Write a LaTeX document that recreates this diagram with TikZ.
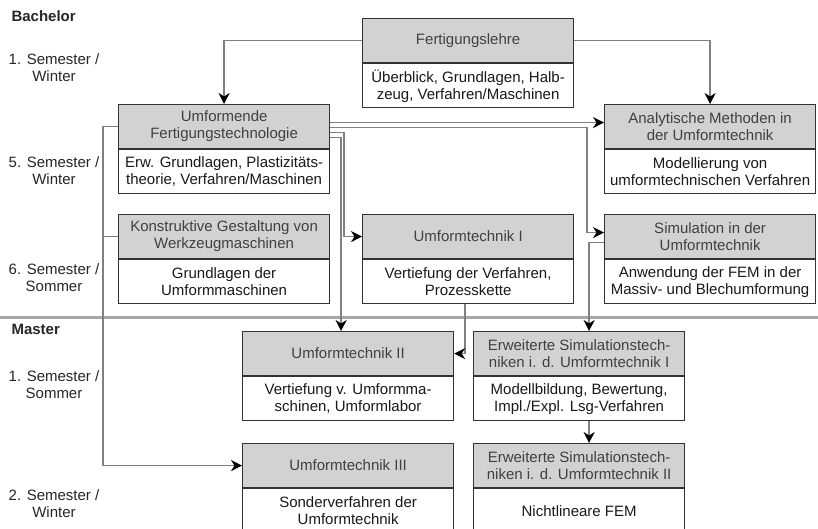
\documentclass[tikz,border=0pt]{standalone}
\usepackage{fontspec}
\setmainfont{Liberation Sans}
\usetikzlibrary{arrows.meta,positioning}

\tikzset{
  kopf/.style={draw=black!80, line width=1.2pt, fill=gray!35, text=black!75,
    minimum width=211pt, minimum height=44pt, inner sep=1pt, align=center, anchor=north west},
  inhalt/.style={draw=black!80, line width=1.2pt, fill=white, text=black!90,
    minimum width=211pt, minimum height=44pt, inner sep=1pt, align=center},
  sem/.style={align=center, text=black!85},
  linie/.style={draw=black!50, line width=1.4pt},
  pfeil/.style={linie, -{Stealth[black, length=11pt, width=11pt, inset=3.5pt]}},
  trenner/.style={draw=black!35, line width=3pt}
}

\begin{document}
\begin{tikzpicture}[x=1pt, y=-1pt, font=\fontsize{15}{17}\selectfont]
\useasboundingbox (0,0) rectangle (818,529);
\clip (0,0) rectangle (818,529);

% Semester
\node[anchor=west, font=\fontsize{15}{17}\selectfont\bfseries, text=black!85] (bach) at (8,16) {Bachelor};
\node[sem] (s1) at (54,68) {1. Semester /\\Winter};
\node[sem] (s5) at (54,171) {5. Semester /\\Winter};
\node[sem] (s6) at (54,278) {6. Semester /\\Sommer};
\draw[trenner] (0,317) -- (818,317);
\node[anchor=west, font=\fontsize{15}{17}\selectfont\bfseries, text=black!85] (mast) at (8,329) {Master};
\node[sem] (m1) at (54,385) {1. Semester /\\Sommer};
\node[sem] (m2) at (54,504) {2. Semester /\\Winter};

% Bachelor
\node[kopf] (flh) at (362,18) {Fertigungslehre};
\node[inhalt, below=0pt of flh] (flb) {Überblick, Grundlagen, Halb-\\zeug, Verfahren/Maschinen};
\node[kopf] (ufh) at (118,104) {Umformende\\Fertigungstechnologie};
\node[inhalt, below=0pt of ufh] (ufb) {Erw. Grundlagen, Plastizitäts-\\theorie, Verfahren/Maschinen};
\node[kopf] (amh) at (604,104) {Analytische Methoden in\\der Umformtechnik};
\node[inhalt, below=0pt of amh] (amb) {Modellierung von\\umformtechnischen Verfahren};
\node[kopf] (kgh) at (118,214) {Konstruktive Gestaltung von\\Werkzeugmaschinen};
\node[inhalt, below=0pt of kgh] (kgb) {Grundlagen der\\Umformmaschinen};
\node[kopf] (u1h) at (362,214) {Umformtechnik I};
\node[inhalt, below=0pt of u1h] (u1b) {Vertiefung der Verfahren,\\Prozesskette};
\node[kopf] (sih) at (604,214) {Simulation in der\\Umformtechnik};
\node[inhalt, below=0pt of sih] (sib) {Anwendung der FEM in der\\Massiv- und Blechumformung};

% Master
\node[kopf] (u2h) at (242,331) {Umformtechnik II};
\node[inhalt, below=0pt of u2h] (u2b) {Vertiefung v. Umformma-\\schinen, Umformlabor};
\node[kopf] (e1h) at (473,331) {Erweiterte Simulationstech-\\niken i. d. Umformtechnik I};
\node[inhalt, below=0pt of e1h] (e1b) {Modellbildung, Bewertung,\\Impl./Expl. Lsg-Verfahren};
\node[kopf] (u3h) at (242,443) {Umformtechnik III};
\node[inhalt, below=0pt of u3h] (u3b) {Sonderverfahren der\\Umformtechnik};
\node[kopf] (e2h) at (473,443) {Erweiterte Simulationstech-\\niken i. d. Umformtechnik II};
\node[inhalt, below=0pt of e2h] (e2b) {Nichtlineare FEM};

% Verbindungen
\draw[pfeil] (flh.west) -| (ufh.north);
\draw[pfeil] (flh.east) -| (amh.north);
\draw[pfeil] ([yshift=4pt]ufh.east) -- ([yshift=4pt]amh.west);
\draw[pfeil] ([yshift=-1pt]ufh.east) -| ([xshift=-17pt,yshift=4pt]sih.west) -- ([yshift=4pt]sih.west);
\draw[pfeil] ([yshift=-6pt]ufh.east) -| ([xshift=-18pt]u1h.west) -- (u1h.west);
\draw[pfeil] ([yshift=-11pt]ufh.east) -| ([xshift=-7pt]u2h.north);
\draw[pfeil] (ufh.west) -| ([xshift=-139pt]u3h.west) -- (u3h.west);
\draw[linie] (kgh.west) -- ++(-15,0);
\draw[pfeil] ([xshift=-3pt]u1b.south) |- (u2h.east);
\draw[pfeil] ([yshift=-6pt]sih.west) -| ([xshift=10pt]e1h.north);
\draw[pfeil] ([xshift=10pt]e1b.south) -- ([xshift=10pt]e2h.north);
\end{tikzpicture}
\end{document}
